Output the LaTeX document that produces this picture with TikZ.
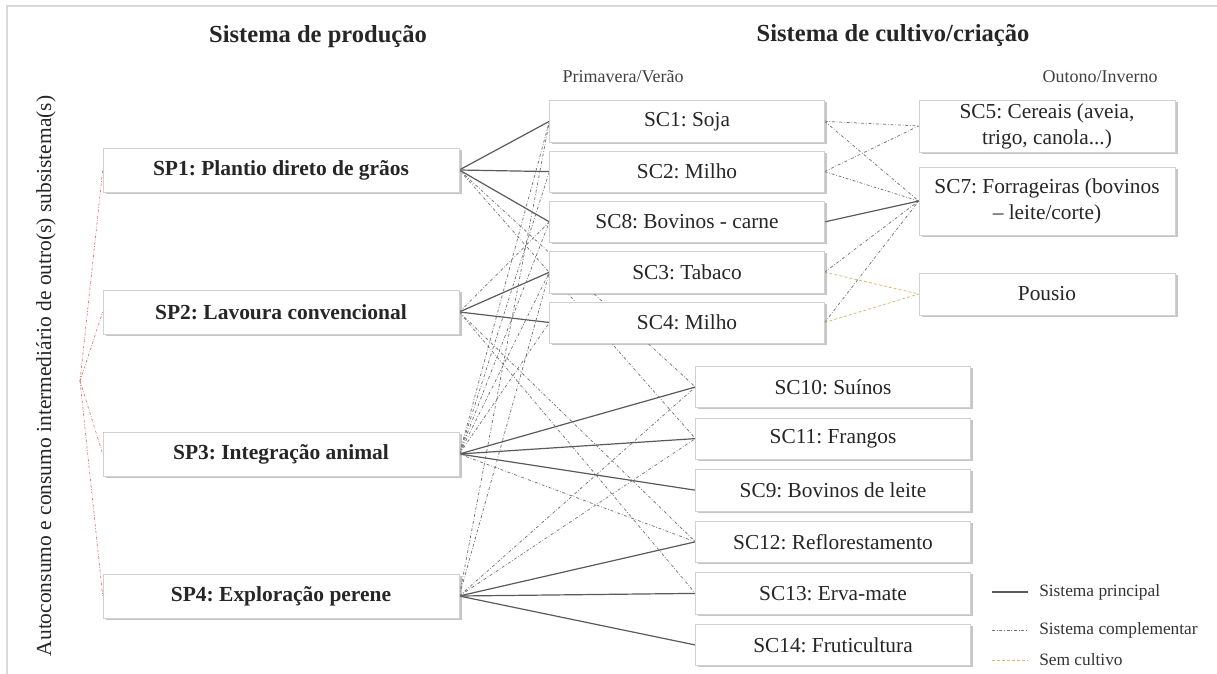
\documentclass[tikz,border=0pt]{standalone}
\usepackage{fontspec}
\setmainfont{Liberation Serif}
\frenchspacing
\usetikzlibrary{shadows, backgrounds}

\definecolor{maingray}{RGB}{90,90,90}
\definecolor{compgray}{RGB}{115,115,115}
\definecolor{fallow}{RGB}{214,186,120}
\definecolor{ownred}{RGB}{222,120,120}

\tikzset{
  every box/.style={draw=black!18, fill=white, text=black!85, inner sep=2pt,
    drop shadow={shadow xshift=2pt, shadow yshift=-1.3pt, opacity=0.45}},
  box sp/.style={every box, minimum width=267pt, minimum height=33pt,
    font=\fontsize{16.1}{19}\selectfont\bfseries},
  box sc/.style={every box, minimum width=206pt, minimum height=31pt,
    font=\fontsize{16}{19}\selectfont},
  box winter/.style={every box, minimum width=192pt, minimum height=31.5pt,
    align=center, font=\fontsize{16}{19.5}\selectfont},
  heading/.style={font=\fontsize{18.4}{22}\selectfont\bfseries, text=black!85},
  season/.style={font=\fontsize{13.5}{16}\selectfont, text=black!75},
  legend text/.style={anchor=west, inner sep=0pt, text=black!80,
    font=\fontsize{13}{15}\selectfont},
  principal/.style={draw=maingray, line width=0.9pt},
  complementar/.style={draw=compgray, line width=0.55pt,
    dash pattern=on 2.2pt off 1.4pt on 0.5pt off 1.4pt},
  sem cultivo/.style={draw=fallow, line width=0.6pt,
    dash pattern=on 2.2pt off 1.6pt},
  own use/.style={draw=ownred, line width=0.5pt,
    dash pattern=on 2pt off 1.2pt on 0.5pt off 1.2pt}
}

\begin{document}
\begin{tikzpicture}[x=0.75pt, y=-0.75pt]

\useasboundingbox (0,0) rectangle (1217,674);
\draw [draw=black!15, line width=1pt] (7,674) -- (7,6) -- (1217,6);

\node [heading] (head-sp) at (318,37) {Sistema de produção};
\node [heading] (head-sc) at (893,35) {Sistema de cultivo/criação};
\node [season] (season-1) at (623,77) {Primavera/Verão};
\node [season] (season-2) at (1100,77) {Outono/Inverno};

\node [rotate=90, text=black!85, font=\fontsize{16.1}{19}\selectfont] (autoconsumo)
  at (46,376) {Autoconsumo e consumo intermediário de outro(s) subsistema(s)};

\foreach \t [count=\i] in {Plantio direto de grãos, Lavoura convencional, Integração animal, Exploração perene}
  \node [box sp] (sp-\i) at (281,28+142*\i) {SP\i: \t};

\foreach \m/\t [count=\i] in {1/Soja, 2/Milho, 8/Bovinos - carne, 3/Tabaco, 4/Milho}
  \node [box sc] (sc-\m) at (687,71+50.3*\i) {SC\m: \t};

\foreach \m/\t [count=\i from 0] in {10/Suínos, 11/Frangos, 9/Bovinos de leite, 12/Reflorestamento, 13/Erva-mate, 14/Fruticultura}
  \node [box sc] (sc-\m) at (833,387+51.6*\i) {SC\m: \t};

\node [box winter, minimum height=39pt] (sc-5) at (1047,126) {SC5: Cereais (aveia,\\trigo, canola...)};
\node [box winter, minimum height=51pt] (sc-7) at (1047,201) {SC7: Forrageiras (bovinos\\-- leite/corte)};
\node [box winter] (pousio) at (1047,294) {Pousio};

\begin{scope}[on background layer]
%% production systems -> cropping systems
\foreach \a/\b in {1/1, 1/2, 1/8, 2/3, 2/4, 3/10, 3/11, 3/9, 4/12, 4/13, 4/14}
  \draw [principal] (sp-\a.east) -- (sc-\b.west);
\foreach \a/\b in {1/10, 1/11, 2/8, 2/12, 2/13, 3/1, 3/2, 3/8, 3/3, 3/4, 3/12, 4/1, 4/3, 4/10, 4/11}
  \draw [complementar] (sp-\a.east) -- (sc-\b.west);

%% summer -> winter
\foreach \a/\b in {1/5, 1/7, 2/5, 2/7, 3/7, 4/7}
  \draw [complementar] (sc-\a.east) -- (sc-\b.west);
\draw [principal] (sc-8.east) -- (sc-7.west);
\foreach \a in {3,4}
  \draw [sem cultivo] (sc-\a.east) -- (pousio.west);

%% autoconsumo
\coordinate (hub) at (80,381);
\foreach \i in {1,...,4}
  \draw [own use] (hub) -- (sp-\i.west);
\end{scope}

\foreach \y/\s/\t [count=\i] in {592/principal/Sistema principal, 630/complementar/Sistema complementar, 660/sem cultivo/Sem cultivo}
{
  \node [legend text] (legend-\i) at (1039,\y) {\t};
  \draw [\s] (legend-\i.west) ++(-47,0) -- ++(36,0);
}

\end{tikzpicture}
\end{document}
